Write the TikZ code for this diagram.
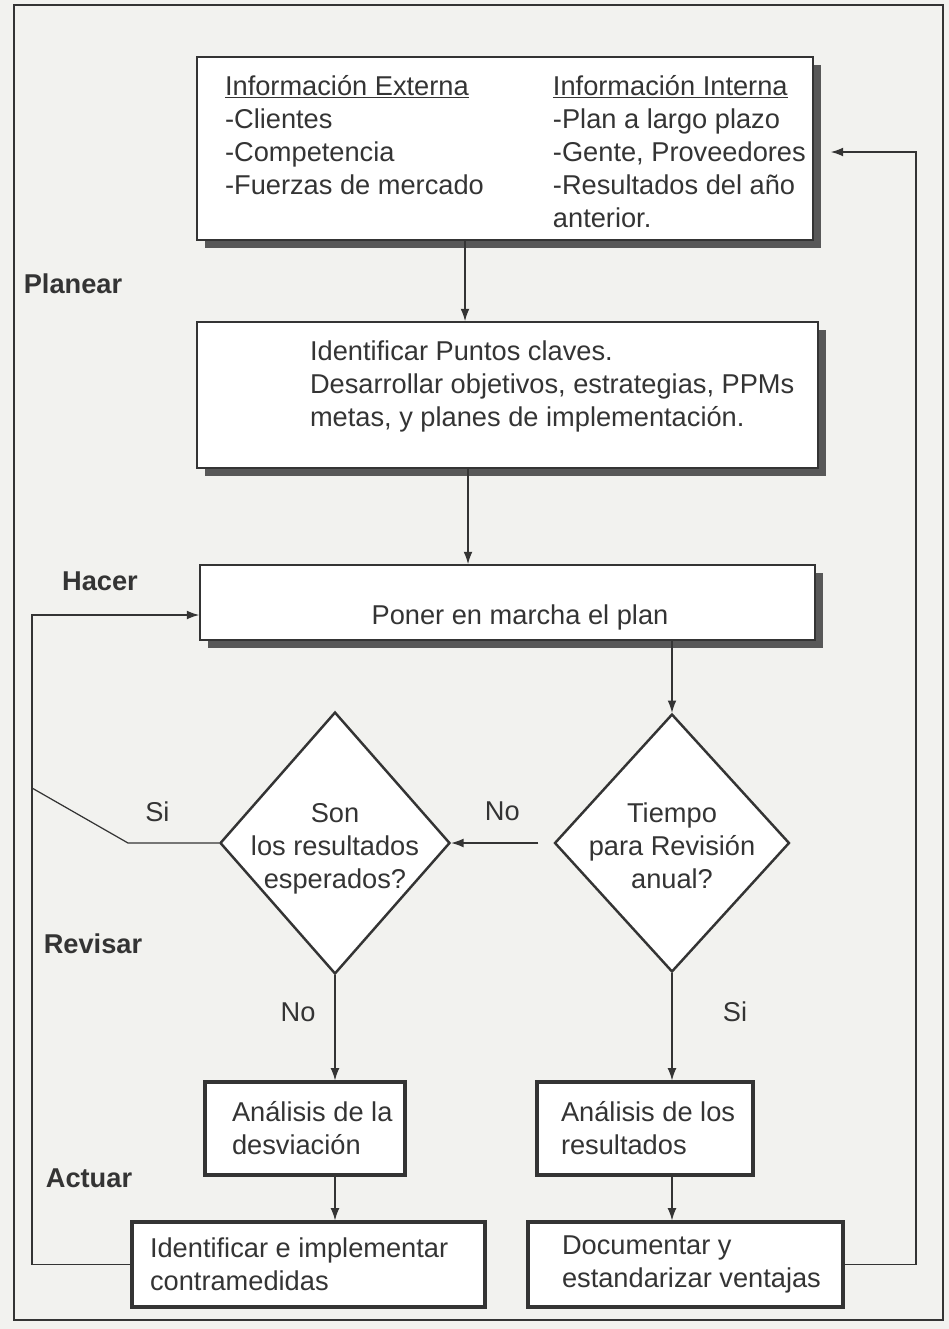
\documentclass[tikz,border=0pt]{standalone}
\usepackage{fontspec}
\setmainfont{Liberation Sans}
\usetikzlibrary{shapes.geometric,shadows,arrows.meta}
\definecolor{paper}{RGB}{242,242,239}
\definecolor{ink}{RGB}{52,52,52}
\definecolor{shade}{RGB}{88,88,88}

\begin{document}
\begin{tikzpicture}[x=0.02cm,y=-0.02cm,font=\fontsize{15.5}{18.8}\selectfont,>={Latex[length=7pt,width=5pt]}]
\tikzstyle{shadowbox}=[draw=ink,line width=1pt,fill=white,text=ink,inner sep=0pt,drop shadow={shadow xshift=0.16cm,shadow yshift=-0.16cm,fill=shade,opacity=1}];
\tikzstyle{thickbox}=[draw=ink,line width=1.8pt,fill=white,text=ink,inner sep=0pt];
\tikzstyle{decision}=[draw=ink,line width=1.4pt,shape=diamond,fill=white,text=ink,inner sep=0pt];
\tikzstyle{phase}=[font=\fontsize{15.5}{18.8}\selectfont\bfseries,text=ink];
\tikzstyle{lbl}=[text=ink];
\tikzstyle{link}=[draw=ink,line width=0.7pt];

\fill[paper] (0,0) rectangle (949,1329);
\draw[ink,line width=0.9pt] (14,5) rectangle (943,1320);

% planear
\node[shadowbox,minimum width=12.32cm,minimum height=3.66cm] (info) at (505,148.5) {\parbox[c][3.66cm][c]{12.32cm}{\vspace*{0.24cm}\hspace*{0.56cm}\begin{tabular}{@{}p{6.56cm}@{}l@{}}
\underline{Información Externa} & \underline{Información Interna}\\
-Clientes & -Plan a largo plazo\\
-Competencia & -Gente, Proveedores\\
-Fuerzas de mercado & -Resultados del año\\
 & anterior.
\end{tabular}}};
\node[shadowbox,minimum width=12.42cm,minimum height=2.92cm] (plan) at (507.5,395) {\parbox[c][2.92cm][t]{12.42cm}{\raggedright\leftskip=2.26cm\relax
\vspace*{0.38cm}Identificar Puntos claves.\\Desarrollar objetivos, estrategias, PPMs\\metas, y planes de implementación.\par}};

% hacer
\node[shadowbox,minimum width=12.3cm,minimum height=1.5cm,text height=0.98cm,text depth=0.12cm] (run) at (507.5,602.5) {\hspace*{0.5cm}Poner en marcha el plan};

% revisar
\node[decision,minimum width=4.7cm,minimum height=5.16cm] (rev) at (672,843) {\makebox[0pt]{\raisebox{-0.11cm}[\height][\depth]{\begin{tabular}{@{}c@{}}Tiempo\\para Revisión\\anual?\end{tabular}}}};
\node[decision,minimum width=4.6cm,minimum height=5.24cm] (res) at (335,843) {\makebox[0pt]{\raisebox{-0.11cm}[\height][\depth]{\begin{tabular}{@{}c@{}}Son\\los resultados\\esperados?\end{tabular}}}};

% actuar
\node[thickbox,minimum width=4cm,minimum height=1.86cm] (dev) at (305,1128.5) {\parbox{4cm}{\raggedright\leftskip=0.54cm\relax Análisis de la\\desviación\par}};
\node[thickbox,minimum width=4.32cm,minimum height=1.86cm] (anr) at (645,1128.5) {\parbox{4.32cm}{\raggedright\leftskip=0.48cm\relax Análisis de los\\resultados\par}};
\node[thickbox,minimum width=7.06cm,minimum height=1.7cm] (cm) at (308.5,1264.5) {\parbox{7.06cm}{\raggedright\leftskip=0.36cm\relax Identificar e implementar\\contramedidas\par}};
\node[thickbox,minimum width=6.3cm,minimum height=1.7cm] (doc) at (685.5,1264.5) {\parbox{6.3cm}{\raggedright\leftskip=0.68cm\relax Documentar y\\estandarizar ventajas\par}};

\node[phase] (planear) at (73,284) {Planear};
\node[phase] (hacer) at (100,581) {Hacer};
\node[phase] (revisar) at (93,944) {Revisar};
\node[phase] (actuar) at (89,1178) {Actuar};

\coordinate (lf) at (32,0);
\coordinate (rt) at (916,0);
\coordinate (kink) at (128,843);
\coordinate (join) at (32,788);

\draw[link,->] ([xshift=-0.8cm]info.south) -- ([xshift=-0.8cm]info.south |- plan.north);
\draw[link,->] ([xshift=-0.79cm]plan.south) -- ([xshift=-0.79cm]plan.south |- run.north);
\draw[link,->] (run.south -| rev.north) -- (rev.north);
\draw[link,->,shorten <=0.3cm] (rev.west) -- node[lbl,yshift=0.64cm] {No} (res.east);
\draw[link] (res.west) -- node[lbl,xshift=-0.32cm,yshift=0.62cm] {Si} (kink) -- (join);
\draw[link,->] (res.south) -- node[lbl,xshift=-0.74cm,yshift=0.32cm] {No} (res.south |- dev.north);
\draw[link,->] (rev.south) -- node[lbl,xshift=1.26cm,yshift=0.3cm] {Si} (rev.south |- anr.north);
\draw[link,->] (dev.south -| res.south) -- (cm.north -| res.south);
\draw[link,->] (anr.south -| rev.south) -- (doc.north -| rev.south);
\draw[link,->] (doc.east) -- (doc.east -| rt) |- ([xshift=0.34cm,yshift=-0.07cm]info.east);
\draw[link,->] (cm.west) -- (cm.west -| lf) |- ([yshift=-0.25cm]run.west);
\end{tikzpicture}
\end{document}
